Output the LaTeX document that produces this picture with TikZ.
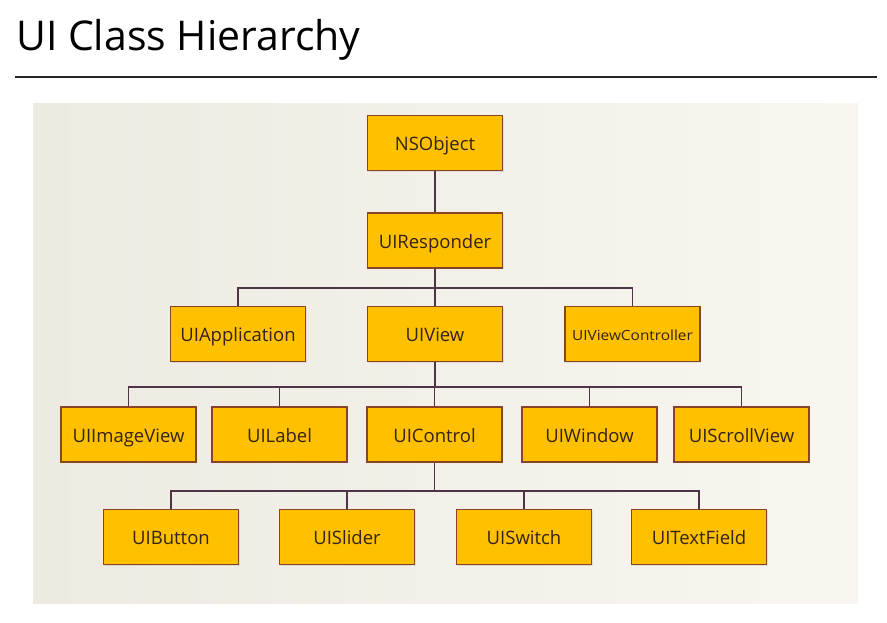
\documentclass[tikz,border=0pt]{standalone}
\usepackage{fontspec}
\setmainfont{Open Sans}
\usetikzlibrary{shadows}
\definecolor{boxfill}{HTML}{FFC000}
\definecolor{boxline}{HTML}{8A4326}
\definecolor{conn}{HTML}{4E3444}
\definecolor{txt}{HTML}{33231A}
\definecolor{panelA}{HTML}{EDEAE2}
\definecolor{panelB}{HTML}{F8F6EF}
\tikzset{
  cls/.style={draw=boxline, line width=1.7pt, fill=boxfill, minimum width=135pt, minimum height=55pt,
    inner sep=0pt, text=txt, font=\fontsize{18.5}{22}\selectfont, text height=15.2pt, text depth=0pt,
    drop shadow={opacity=0.18, shadow xshift=1.2pt, shadow yshift=-1.2pt}},
  link/.style={draw=conn, line width=1.4pt}
}
\begin{document}
\begin{tikzpicture}[x=1pt,y=-1pt]
\useasboundingbox (0,0) rectangle (887,622);
\fill[white] (0,0) rectangle (887,622);
% title
\node[anchor=base west, inner sep=0pt, font=\fontsize{41}{48}\selectfont] (title) at (16,50) {UI Class Hierarchy};
\draw[line width=2pt, color=black!85] (15,77) -- (877,77);
% panel
\shade[left color=panelA, right color=panelB] (33,103) rectangle (858,603);
% bus coordinates
\coordinate (b2) at (0,288);
\coordinate (b3) at (0,387);
\coordinate (b4) at (0,491);
% nodes
\node[cls] (nso) at (435,143) {NSObject};
\node[cls] (resp) at (435,240.5) {UIResponder};
\node[cls] (app) at (238,334) {UIApplication};
\node[cls] (view) at (435,334) {UIView};
\node[cls, font=\fontsize{14}{16}\selectfont, text height=12pt] (vc) at (632.5,334) {\scalebox{1.1}[1]{UIViewController}};
\node[cls] (iv) at (128.5,434.5) {UIImageView};
\node[cls] (lbl) at (279.5,434.5) {UILabel};
\node[cls] (ctl) at (434.5,434.5) {UIControl};
\node[cls] (win) at (589.5,434.5) {UIWindow};
\node[cls] (sv) at (741.5,434.5) {UIScrollView};
\node[cls] (btn) at (171,537) {UIButton};
\node[cls] (sld) at (347,537) {UISlider};
\node[cls] (sw) at (524,537) {UISwitch};
\node[cls] (tf) at (699,537) {UITextField};
% connectors
\draw[link] (nso.south) -- (resp.north);
\draw[link] (resp.south) -- (resp.south |- b2);
\draw[link] (app.north) -- (app.north |- b2) -- (vc.north |- b2) -- (vc.north);
\draw[link] (view.north) -- (view.north |- b2);
\draw[link] (view.south) -- (view.south |- b3);
\draw[link] (iv.north) -- (iv.north |- b3) -- (sv.north |- b3) -- (sv.north);
\draw[link] (lbl.north) -- (lbl.north |- b3);
\draw[link] (ctl.north) -- (ctl.north |- b3);
\draw[link] (win.north) -- (win.north |- b3);
\draw[link] (ctl.south) -- (ctl.south |- b4);
\draw[link] (btn.north) -- (btn.north |- b4) -- (tf.north |- b4) -- (tf.north);
\draw[link] (sld.north) -- (sld.north |- b4);
\draw[link] (sw.north) -- (sw.north |- b4);
\end{tikzpicture}
\end{document}
